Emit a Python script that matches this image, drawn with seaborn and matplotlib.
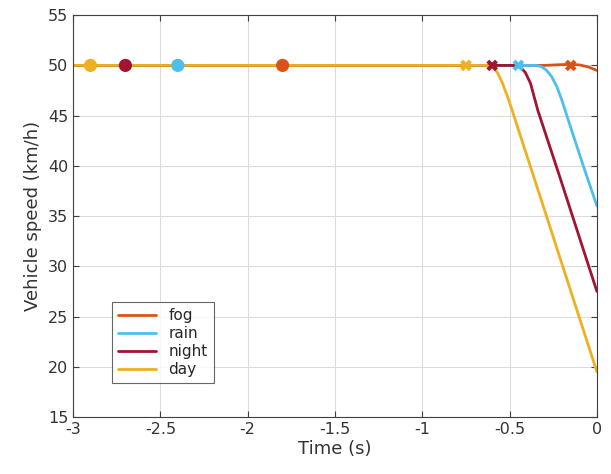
import pandas as pd
import seaborn as sns
import matplotlib.pyplot as plt

# speed profiles (km/h)
fog_t = [-3.0, -1.0, -0.3, -0.2, -0.15, -0.1, -0.05, 0.0]
fog_v = [50.0, 50.0, 50.0, 50.08, 50.1, 50.05, 49.85, 49.5]
rain_t = [-3.0, -0.35, -0.32, -0.29, -0.26, -0.23, -0.2, -0.174, -0.146, -0.08, 0.0]
rain_v = [50.0, 50.0, 49.9, 49.55, 48.9, 47.9, 46.5, 45.1, 43.6, 40.1, 36.0]
night_t = [-3.0, -0.47, -0.44, -0.41, -0.38, -0.36, -0.338, -0.3, -0.222, 0.0]
night_v = [50.0, 50.0, 49.85, 49.3, 48.2, 46.9, 45.5, 43.5, 39.4, 27.5]
day_t = [-3.0, -0.63, -0.6, -0.57, -0.54, -0.51, -0.483, -0.446, -0.384, 0.0]
day_v = [50.0, 50.0, 49.85, 49.3, 48.2, 46.8, 45.4, 43.4, 40.1, 19.5]

names = ['fog', 'rain', 'night', 'day']
colors = ['#D95319', '#4DBEEE', '#A2142F', '#EDB120']
start_t = [-1.8, -2.4, -2.7, -2.9]
end_t = [-0.15, -0.45, -0.6, -0.75]
marker_v = [50, 50, 50, 50]

df = pd.concat([
    pd.DataFrame({'t': fog_t, 'v': fog_v, 'cond': 'fog'}),
    pd.DataFrame({'t': rain_t, 'v': rain_v, 'cond': 'rain'}),
    pd.DataFrame({'t': night_t, 'v': night_v, 'cond': 'night'}),
    pd.DataFrame({'t': day_t, 'v': day_v, 'cond': 'day'}),
])
starts = pd.DataFrame({'t': start_t, 'v': marker_v, 'cond': names})
ends = pd.DataFrame({'t': end_t, 'v': marker_v, 'cond': names})

sns.set_style('white')
plt.rcParams['font.family'] = ['DejaVu Sans']
pal = dict(zip(names, colors))
dark = '#404040'

fig = plt.figure(figsize=(6.11, 4.74), dpi=100)
ax = fig.add_axes([0.1195, 0.12, 0.8575, 0.848])

sns.lineplot(data=df, x='t', y='v', hue='cond', palette=pal, hue_order=names,
             linewidth=2, ax=ax, sort=False)
sns.scatterplot(data=starts, x='t', y='v', hue='cond', palette=pal, hue_order=names,
                s=90, edgecolor='none', ax=ax, legend=False, zorder=5)
sns.scatterplot(data=ends, x='t', y='v', hue='cond', palette=pal, hue_order=names,
                marker='X', s=70, edgecolor='none', ax=ax, legend=False, zorder=5)

ax.set_xlim(-3, 0)
ax.set_ylim(15, 55)
ax.set_xticks([-3, -2.5, -2, -1.5, -1, -0.5, 0])
ax.set_xticklabels(['-3', '-2.5', '-2', '-1.5', '-1', '-0.5', '0'])
ax.set_yticks(range(15, 56, 5))
ax.grid(True, color='#dcdcdc', linewidth=0.8)
ax.tick_params(direction='in', length=4, labelsize=11.5, color=dark, labelcolor='#333333',
               top=True, right=True, left=True, bottom=True)
for s in ax.spines.values():
    s.set_color(dark)
    s.set_linewidth(0.8)
ax.set_xlabel('Time (s)', fontsize=13, color='#333333', labelpad=2)
ax.set_ylabel('Vehicle speed (km/h)', fontsize=13, color='#333333', labelpad=4)

leg = ax.legend(loc='lower left', bbox_to_anchor=(0.06, 0.065), fontsize=11,
                frameon=True, fancybox=False, edgecolor=dark,
                handlelength=2.5, borderpad=0.4, labelspacing=0.2)
leg.get_frame().set_linewidth(0.8)

fig.savefig('out.png', dpi=100)
